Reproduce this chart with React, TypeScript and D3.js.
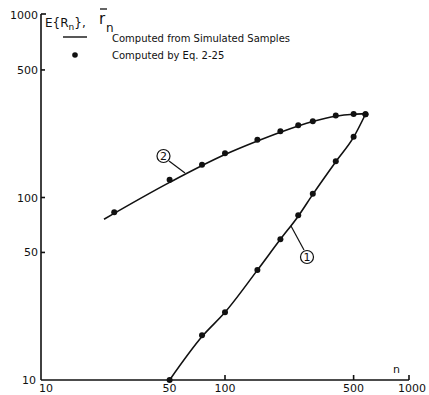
import * as d3 from 'd3';

// curve 1: values at sample sizes n
const n1 = [50, 75, 100, 150, 200, 250, 300, 400, 500, 580];
const v1 = [10, 17.6, 23.5, 40, 59, 80, 105, 158, 215, 286];
// curve 2
const n2 = [25, 50, 75, 100, 150, 200, 250, 300, 400, 500, 580];
const v2 = [83, 125, 151, 175, 207, 231, 249, 262, 281, 287, 286];
// simulated-sample curves (solid lines)
const line1N = [50, 75, 100, 150, 200, 250, 300, 400, 500, 580];
const line1V = [10, 17.3, 23.5, 40, 59, 79, 104, 157, 214, 286];
const line2N = [22, 50, 100, 150, 200, 300, 400, 500, 580];
const line2V = [76, 121, 172, 204, 228, 261, 279, 286, 288];

const xTicks = [10, 50, 100, 500, 1000];
const yTicks = [10, 50, 100, 500, 1000];
const xTickMarks = [100, 500, 1000];
const yTickMarks = [50, 100, 500];

const W = 429;
const H = 395;
const font = '"DejaVu Sans", sans-serif';

export default function App() {
  const x = d3.scaleLog().domain([10, 1000]).range([41, 409]);
  const y = d3.scaleLog().domain([10, 1000]).range([380, 15]);

  const line = d3
    .line<[number, number]>()
    .x(d => x(d[0]))
    .y(d => y(d[1]))
    .curve(d3.curveMonotoneX);

  const l1 = line1N.map((n, i) => [n, line1V[i]] as [number, number]);
  const l2 = line2N.map((n, i) => [n, line2V[i]] as [number, number]);

  return (
    <svg width={W} height={H} style={{ position: 'absolute', left: 0, top: 0, background: '#fff' }}>
      <g stroke="#111" fill="none" strokeWidth={1.6}>
        {/* axes */}
        <line x1={x(10)} y1={y(1000) - 1} x2={x(10)} y2={y(10)} />
        <line x1={x(10)} y1={y(10)} x2={x(1000)} y2={y(10)} />
        <line x1={x(10)} y1={y(1000) - 1} x2={x(10) + 5} y2={y(1000) - 1} />
        {xTickMarks.map(t => (
          <line key={t} x1={x(t)} y1={y(10)} x2={x(t)} y2={y(10) - 5} />
        ))}
        {yTickMarks.map(t => (
          <line key={t} x1={x(10)} y1={y(t)} x2={x(10) + 4} y2={y(t)} />
        ))}
        <path d={line(l1) || ''} />
        <path d={line(l2) || ''} />
        {/* callouts */}
        <line x1={169} y1={161} x2={185} y2={173} strokeWidth={1.2} />
        <circle cx={163.5} cy={156} r={6.5} strokeWidth={1.2} />
        <line x1={291} y1={226} x2={304} y2={250} strokeWidth={1.2} />
        <circle cx={307} cy={257} r={6.5} strokeWidth={1.2} />
        {/* legend line */}
        <line x1={63} y1={37} x2={87} y2={37} strokeWidth={1.4} />
      </g>
      <g fill="#111">
        {n1.map((n, i) => (
          <circle key={'a' + i} cx={x(n)} cy={y(v1[i])} r={3} />
        ))}
        {n2.map((n, i) => (
          <circle key={'b' + i} cx={x(n)} cy={y(v2[i])} r={3} />
        ))}
        <circle cx={75} cy={55} r={2.8} />
      </g>
      <g fontFamily={font} fill="#111">
        <text x={163.5} y={160} fontSize={11} textAnchor="middle">2</text>
        <text x={307} y={261} fontSize={11} textAnchor="middle">1</text>
        {xTicks.map(t => (
          <text
            key={t}
            x={t === 10 ? x(t) + 5 : t === 1000 ? x(t) + 3 : x(t)}
            y={392}
            fontSize={11}
            textAnchor="middle"
          >
            {t}
          </text>
        ))}
        {yTicks.map(t => (
          <text key={t} x={t === 10 ? 36 : 38} y={y(t) + 4} fontSize={11} textAnchor="end">
            {t}
          </text>
        ))}
        <text x={393} y={373} fontSize={11}>n</text>
        <text x={45} y={27} fontSize={12}>
          E{'{'}R<tspan fontSize={9} dy={3}>n</tspan>
          <tspan dy={-3}>{'}'},</tspan>
        </text>
        <text x={99} y={24} fontSize={15}>r</text>
        <line x1={100} y1={9} x2={107} y2={9} stroke="#111" strokeWidth={1.3} />
        <text x={106} y={32} fontSize={12}>n</text>
        <text x={112} y={42} fontSize={10}>Computed from Simulated Samples</text>
        <text x={112} y={59} fontSize={10}>Computed by Eq. 2-25</text>
      </g>
    </svg>
  );
}
